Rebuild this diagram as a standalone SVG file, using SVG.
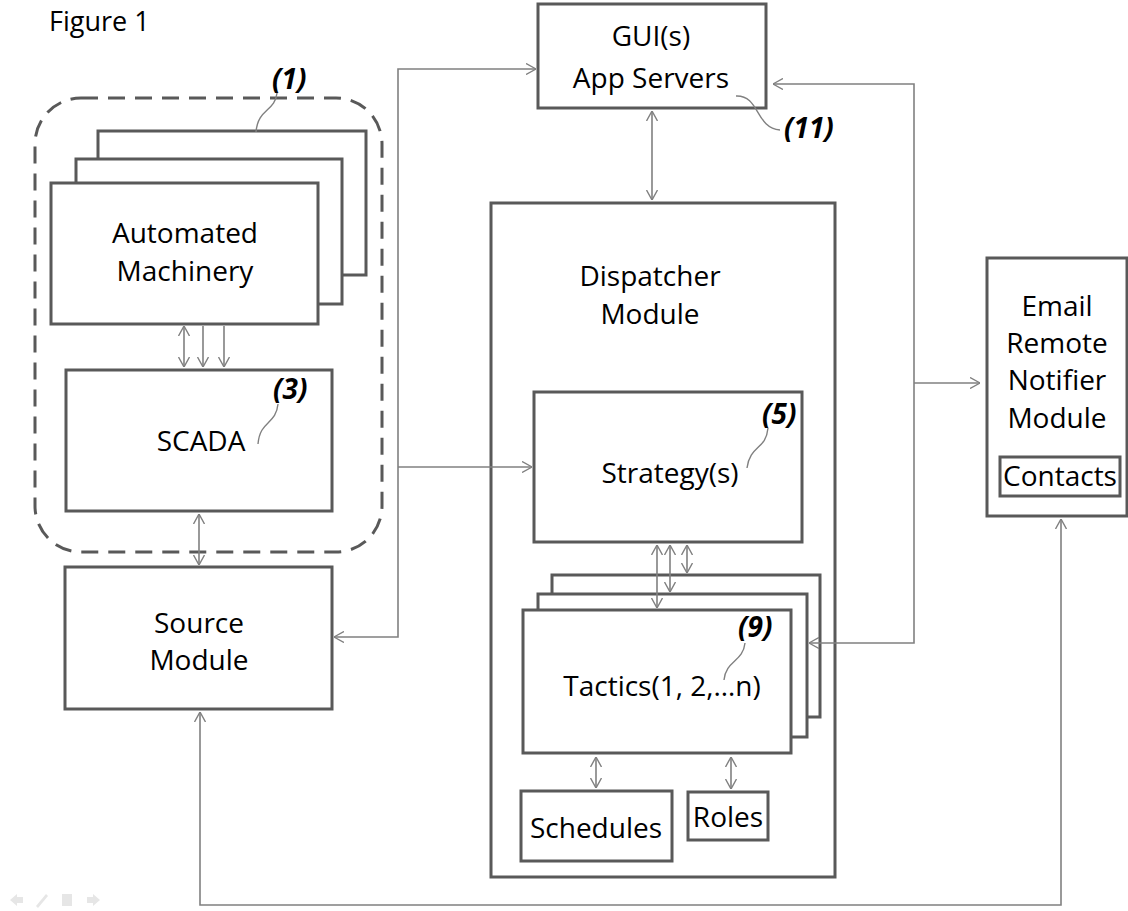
<svg xmlns="http://www.w3.org/2000/svg" width="1128" height="911" viewBox="0 0 1128 911">
<defs>
<marker id="ah" viewBox="0 0 10 12" refX="10" refY="6" markerWidth="10" markerHeight="12" markerUnits="userSpaceOnUse" orient="auto-start-reverse">
<path d="M0,0.5 L10,6 L0,11.5" fill="none" stroke="#808080" stroke-width="1.4"/>
</marker>
<style>
.box{fill:#fff;stroke:#595959;stroke-width:3}
.t{font-family:"Open Sans","Liberation Sans",sans-serif;font-size:28px;fill:#000;text-anchor:middle}
.lbl{font-family:"Open Sans","Liberation Sans",sans-serif;font-size:28px;font-weight:bold;font-style:italic;fill:#000}
.c{fill:none;stroke:#808080;stroke-width:1.6}
.a{marker-end:url(#ah)}
.d{marker-start:url(#ah);marker-end:url(#ah)}
.ld{fill:none;stroke:#808080;stroke-width:1.4}
.nav{fill:#e6e6e6}
</style>
</defs>
<rect width="1128" height="911" fill="#fff"/>
<text x="49" y="31" style="font-family:'Open Sans','Liberation Sans',sans-serif;font-size:27px;fill:#000">Figure 1</text>

<g id="group1">
<rect x="35" y="98" width="347" height="454" rx="46" fill="none" stroke="#595959" stroke-width="3" stroke-dasharray="17 10"/>
</g>

<g id="machinery">
<rect class="box" x="98" y="131" width="268" height="144"/>
<rect class="box" x="76" y="159" width="266" height="145"/>
<rect class="box" x="51" y="183" width="267" height="141"/>
<text class="t" x="185" y="243">Automated</text>
<text class="t" x="185" y="281">Machinery</text>
<text class="lbl" x="272" y="89">(1)</text>
<path class="ld" d="M277 93 C275 112 258 108 256 132"/>
</g>

<g id="scada">
<rect class="box" x="66" y="370" width="266" height="141"/>
<text class="t" x="201" y="451">SCADA</text>
<text class="lbl" x="273" y="399">(3)</text>
<path class="ld" d="M278 404 C276 425 260 420 258 444"/>
</g>

<g id="source">
<rect class="box" x="65" y="567" width="267" height="142"/>
<text class="t" x="199" y="633">Source</text>
<text class="t" x="199" y="670">Module</text>
</g>

<g id="gui">
<rect class="box" x="538" y="4" width="228" height="104"/>
<text class="t" x="651" y="46">GUI(s)</text>
<text class="t" x="651" y="88">App Servers</text>
<text class="lbl" x="784" y="138">(11)</text>
<path class="ld" d="M736 96 C760 95 755 128 780 130"/>
</g>

<g id="dispatcher">
<rect class="box" x="491" y="203" width="344" height="674"/>
<text class="t" x="650" y="286">Dispatcher</text>
<text class="t" x="650" y="324">Module</text>
</g>

<g id="strategy">
<rect class="box" x="534" y="392" width="268" height="150"/>
<text class="t" x="670" y="483">Strategy(s)</text>
<text class="lbl" x="762" y="424">(5)</text>
<path class="ld" d="M768 428 C766 450 750 445 747 468"/>
</g>

<g id="tactics">
<rect class="box" x="552" y="575" width="268" height="142"/>
<rect class="box" x="538" y="594" width="269" height="143"/>
<rect class="box" x="523" y="610" width="268" height="143"/>
<text class="t" x="662" y="696">Tactics(1, 2,…n)</text>
<text class="lbl" x="738" y="637">(9)</text>
<path class="ld" d="M745 643 C743 662 726 660 724 680"/>
</g>

<g id="schedules">
<rect class="box" x="521" y="791" width="151" height="70"/>
<text class="t" x="596" y="838">Schedules</text>
</g>

<g id="roles">
<rect class="box" x="688" y="792" width="80" height="48"/>
<text class="t" x="728" y="827">Roles</text>
</g>

<g id="email">
<rect class="box" x="987" y="258" width="140" height="258"/>
<text class="t" x="1057" y="316">Email</text>
<text class="t" x="1057" y="353">Remote</text>
<text class="t" x="1057" y="390">Notifier</text>
<text class="t" x="1057" y="428">Module</text>
<rect class="box" x="1000" y="457" width="120" height="39"/>
<text class="t" x="1060" y="486">Contacts</text>
</g>

<g id="connectors">
<line class="c d" x1="184" y1="326" x2="184" y2="367"/>
<line class="c a" x1="203" y1="326" x2="203" y2="367"/>
<line class="c a" x1="224" y1="326" x2="224" y2="367"/>
<line class="c d" x1="199" y1="514" x2="199" y2="565"/>
<path class="c d" d="M334 637 L398 637 L398 69 L536 69"/>
<line class="c a" x1="398" y1="467" x2="532" y2="467"/>
<line class="c d" x1="652" y1="111" x2="652" y2="200"/>
<line class="c d" x1="657" y1="545" x2="657" y2="608"/>
<line class="c d" x1="670" y1="545" x2="670" y2="592"/>
<line class="c d" x1="687" y1="545" x2="687" y2="573"/>
<line class="c d" x1="596" y1="757" x2="596" y2="788"/>
<line class="c d" x1="731" y1="757" x2="731" y2="789"/>
<path class="c d" d="M773 84 L914 84 L914 643 L809 643"/>
<line class="c a" x1="914" y1="383" x2="980" y2="383"/>
<path class="c d" d="M200 712 L200 905 L1061 905 L1061 519"/>
</g>

<g id="nav">
<path class="nav" d="M10 900 L17 894 L17 897 L23 897 L23 903 L17 903 L17 906 Z"/>
<path class="nav" d="M36 906 L46 894 L48 896 L38 908 Z"/>
<rect class="nav" x="62" y="894" width="10" height="12"/>
<path class="nav" d="M100 900 L93 894 L93 897 L87 897 L87 903 L93 903 L93 906 Z"/>
</g>
</svg>
